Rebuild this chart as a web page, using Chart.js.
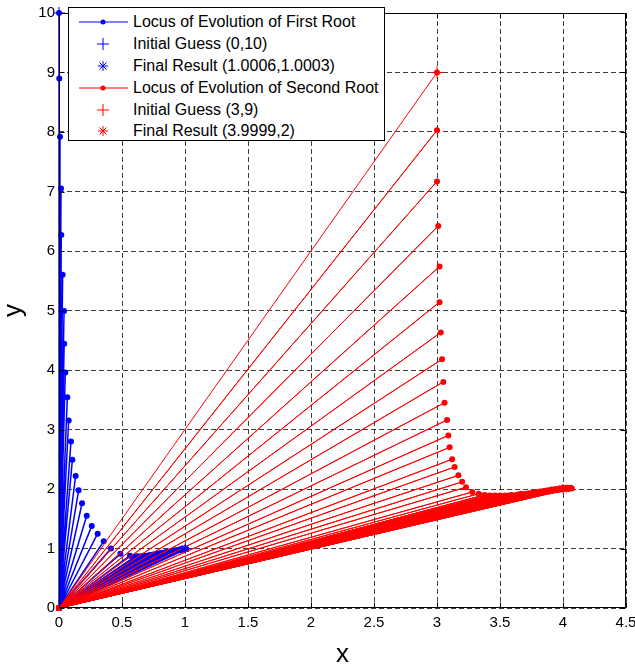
<!DOCTYPE html>
<html>
<head>
<meta charset="utf-8">
<script src="https://cdn.jsdelivr.net/npm/chart.js@4.4.1/dist/chart.umd.min.js"></script>
<style>
  html, body { margin: 0; padding: 0; background: #fff; }
  #wrap { position: relative; width: 635px; height: 664px; }
  #legend {
    position: absolute; left: 68px; top: 7px; width: 317px; height: 134px;
    box-sizing: border-box; border: 1px solid #000; background: #fff;
    padding-top: 3px;
    font-family: "Liberation Sans", Arial, Helvetica, sans-serif; font-size: 16px; color: #000;
  }
  .row { display: flex; align-items: center; height: 21.9px; }
  .row svg { width: 64px; height: 22px; flex: 0 0 64px; }
  .row span { white-space: nowrap; }
</style>
</head>
<body>
<div id="wrap">
  <canvas id="c" width="635" height="664"></canvas>
  <div id="legend"></div>
</div>
<script>
// ---- data ----
const locusHub = [0, 0];               // every iterate is joined back to the origin
const blueLocusX = [0, 0.002, 0.008, 0.016, 0.018, 0.029, 0.040, 0.041, 0.050, 0.066,
  0.077, 0.095, 0.106, 0.132, 0.156, 0.183, 0.220, 0.260, 0.307, 0.355,
  0.413, 0.487, 0.563,
  0.60, 0.61, 0.62, 0.63, 0.64, 0.65, 0.66, 0.67, 0.68, 0.69,
  0.70, 0.71, 0.72, 0.73, 0.74, 0.75, 0.76, 0.77, 0.78, 0.79,
  0.80, 0.81, 0.82, 0.83, 0.84, 0.85, 0.86, 0.87, 0.88, 0.89,
  0.90, 0.91, 0.92, 0.93, 0.94, 0.95, 0.96, 0.97, 0.98, 0.99,
  1.00, 1.01, 1.0006];
const blueLocusY = [10, 8.90, 7.92, 7.05, 6.27, 5.60, 4.99, 4.44, 3.96, 3.54,
  3.15, 2.80, 2.49, 2.22, 1.98, 1.76, 1.55, 1.38, 1.25, 1.12,
  1.00, 0.91, 0.88,
  0.86, 0.85, 0.87, 0.86, 0.85, 0.87, 0.86, 0.88, 0.86, 0.87,
  0.88, 0.87, 0.89, 0.88, 0.89, 0.90, 0.89, 0.91, 0.90, 0.91,
  0.92, 0.91, 0.93, 0.92, 0.93, 0.94, 0.93, 0.95, 0.94, 0.95,
  0.96, 0.95, 0.97, 0.96, 0.97, 0.98, 0.97, 0.99, 0.98, 0.99,
  1.00, 0.99, 1.0003];
const redLocusX = [3.00, 3.00, 3.00, 3.01, 3.02, 3.02, 3.03, 3.04, 3.05, 3.06,
  3.08, 3.09, 3.10, 3.12, 3.14, 3.17, 3.20, 3.23, 3.28, 3.33,
  3.36, 3.37, 3.38, 3.39, 3.40, 3.41, 3.42, 3.43, 3.44, 3.45,
  3.46, 3.47, 3.48, 3.49, 3.50, 3.51, 3.52, 3.53, 3.54, 3.55,
  3.56, 3.57, 3.58, 3.59, 3.60, 3.61, 3.62, 3.63, 3.64, 3.65,
  3.66, 3.67, 3.68, 3.69, 3.70, 3.71, 3.72, 3.73, 3.74, 3.75,
  3.76, 3.77, 3.78, 3.79, 3.80, 3.81, 3.82, 3.83, 3.84, 3.85,
  3.86, 3.87, 3.88, 3.89, 3.90, 3.91, 3.92, 3.93, 3.94, 3.95,
  3.96, 3.97, 3.98, 3.99, 4.00, 4.01, 4.02, 4.03, 4.04, 4.05,
  4.06, 4.07, 3.9999];
const redLocusY = [9.00, 8.03, 7.17, 6.42, 5.74, 5.14, 4.63, 4.18, 3.80, 3.45,
  3.16, 2.90, 2.70, 2.50, 2.37, 2.23, 2.12, 2.03, 1.95, 1.92,
  1.89, 1.87, 1.90, 1.86, 1.88, 1.87, 1.89, 1.86, 1.88, 1.87,
  1.89, 1.86, 1.88, 1.87, 1.89, 1.87, 1.88, 1.86, 1.89, 1.87,
  1.88, 1.89, 1.87, 1.90, 1.88, 1.89, 1.87, 1.90, 1.89, 1.91,
  1.89, 1.92, 1.90, 1.91, 1.89, 1.92, 1.91, 1.93, 1.91, 1.92,
  1.94, 1.92, 1.93, 1.95, 1.93, 1.94, 1.96, 1.94, 1.95, 1.97,
  1.95, 1.96, 1.98, 1.96, 1.97, 1.99, 1.97, 1.98, 2.00, 1.98,
  1.99, 2.01, 1.99, 2.00, 2.02, 2.00, 2.01, 2.02, 2.00, 2.01,
  2.02, 2.01, 2.00];
const blueInitial = [0, 10];
const blueFinal = [1.0006, 1.0003];
const redInitial = [3, 9];
const redFinal = [3.9999, 2];
const xTickValues = [0, 0.5, 1, 1.5, 2, 2.5, 3, 3.5, 4, 4.5];
const xTickLabels = ['0', '0.5', '1', '1.5', '2', '2.5', '3', '3.5', '4', '4.5'];
const yTickValues = [0, 1, 2, 3, 4, 5, 6, 7, 8, 9, 10];
const yTickLabels = ['0', '1', '2', '3', '4', '5', '6', '7', '8', '9', '10'];
const legendLabels = [
  'Locus of Evolution of First Root',
  'Initial Guess (0,10)',
  'Final Result (1.0006,1.0003)',
  'Locus of Evolution of Second Root',
  'Initial Guess (3,9)',
  'Final Result (3.9999,2)'
];
const BLUE = '#0000ff', RED = '#ff0000';

function locus(xs, ys) {
  const pts = [];
  xs.forEach((x, i) => {
    pts.push({ x: x, y: ys[i] });
    pts.push({ x: locusHub[0], y: locusHub[1] });
  });
  return pts;
}
const pt = a => [{ x: a[0], y: a[1] }];

const FONT = '"Liberation Sans", Arial, Helvetica, sans-serif';

const boxPlugin = {
  id: 'boxPlugin',
  afterDatasetsDraw(chart) {
    const ctx = chart.ctx, a = chart.chartArea;
    const xs = chart.scales.x, ys = chart.scales.y;
    ctx.save();
    ctx.strokeStyle = '#000';
    ctx.lineWidth = 1;
    ctx.setLineDash([]);
    const L = Math.round(a.left) + 0.5, R = Math.round(a.right) - 0.5;
    const T = Math.round(a.top) + 0.5, B = Math.round(a.bottom) - 0.5;
    ctx.beginPath();
    ctx.rect(L, T, R - L, B - T);
    const tl = 5;
    xTickValues.forEach(v => {
      const p = Math.round(xs.getPixelForValue(v)) + 0.5;
      ctx.moveTo(p, B); ctx.lineTo(p, B - tl);
      ctx.moveTo(p, T); ctx.lineTo(p, T + tl);
    });
    yTickValues.forEach(v => {
      const p = Math.round(ys.getPixelForValue(v)) + 0.5;
      ctx.moveTo(L, p); ctx.lineTo(L + tl, p);
      ctx.moveTo(R, p); ctx.lineTo(R - tl, p);
    });
    ctx.stroke();
    ctx.restore();
  }
};

const common = { showLine: true, tension: 0, clip: false, pointBorderWidth: 0 };

new Chart(document.getElementById('c'), {
  type: 'scatter',
  data: {
    datasets: [
      Object.assign({}, common, {
        label: legendLabels[0], data: locus(blueLocusX, blueLocusY),
        borderColor: BLUE, backgroundColor: BLUE, borderWidth: 1.5,
        pointRadius: 3, pointBackgroundColor: BLUE, pointBorderColor: BLUE, order: 6
      }),
      {
        label: legendLabels[1], data: pt(blueInitial), showLine: false, clip: false,
        pointStyle: 'cross', pointRadius: 6, borderColor: BLUE, pointBorderWidth: 1,
        pointBorderColor: BLUE, order: 2
      },
      {
        label: legendLabels[2], data: pt(blueFinal), showLine: false, clip: false,
        pointStyle: 'star', pointRadius: 5, borderColor: BLUE, pointBorderWidth: 1,
        pointBorderColor: BLUE, order: 2
      },
      Object.assign({}, common, {
        label: legendLabels[3], data: locus(redLocusX, redLocusY),
        borderColor: RED, backgroundColor: RED, borderWidth: 1,
        pointRadius: 3, pointBackgroundColor: RED, pointBorderColor: RED, order: 5
      }),
      {
        label: legendLabels[4], data: pt(redInitial), showLine: false, clip: false,
        pointStyle: 'cross', pointRadius: 6, borderColor: RED, pointBorderWidth: 1,
        pointBorderColor: RED, order: 1
      },
      {
        label: legendLabels[5], data: pt(redFinal), showLine: false, clip: false,
        pointStyle: 'star', pointRadius: 5, borderColor: RED, pointBorderWidth: 1,
        pointBorderColor: RED, order: 1
      }
    ]
  },
  options: {
    responsive: false,
    animation: false,
    devicePixelRatio: 1,
    layout: { padding: { top: 13, right: 9, left: 0, bottom: 0 } },
    plugins: { legend: { display: false }, tooltip: { enabled: false } },
    scales: {
      x: {
        type: 'linear', min: 0, max: 4.5,
        afterBuildTicks: s => { s.ticks = xTickValues.map(v => ({ value: v })); },
        afterFit: s => { s.height = 56; s.paddingLeft = 0; s.paddingRight = 0; },
        ticks: {
          padding: 6, maxRotation: 0, autoSkip: false, color: '#000',
          font: { family: FONT, size: 15 },
          callback: (v, i) => xTickLabels[i]
        },
        grid: { color: 'rgba(0,0,0,0.75)', lineWidth: 1, drawTicks: false },
        border: { display: false, dash: [5, 3] },
        title: {
          display: true, text: 'x', color: '#000',
          font: { family: FONT, size: 26, lineHeight: 0.6 },
          padding: { top: 0, bottom: 1.5 }
        }
      },
      y: {
        type: 'linear', min: 0, max: 10,
        afterBuildTicks: s => { s.ticks = yTickValues.map(v => ({ value: v })); },
        afterFit: s => { s.width = 59; s.paddingTop = 0; s.paddingBottom = 0; },
        ticks: {
          padding: 4, autoSkip: false, color: '#000',
          font: { family: FONT, size: 15 },
          callback: (v, i) => yTickLabels[i]
        },
        grid: { color: 'rgba(0,0,0,0.75)', lineWidth: 1, drawTicks: false },
        border: { display: false, dash: [5, 3] },
        title: {
          display: true, text: 'y', color: '#000',
          font: { family: FONT, size: 26, lineHeight: 0.6 },
          padding: { top: 6.5, bottom: 0 }
        }
      }
    }
  },
  plugins: [boxPlugin]
});

// ---- legend (HTML, real text) ----
function sampleSvg(kind, color) {
  let s = '<svg viewBox="0 0 64 22" xmlns="http://www.w3.org/2000/svg">';
  if (kind === 'line') {
    s += `<line x1="10" y1="11" x2="59" y2="11" stroke="${color}" stroke-width="1"/>`;
    s += `<circle cx="34" cy="11" r="2.5" fill="${color}"/>`;
  } else if (kind === 'cross') {
    s += `<line x1="28" y1="11" x2="40" y2="11" stroke="${color}" stroke-width="1"/>`;
    s += `<line x1="34" y1="5" x2="34" y2="17" stroke="${color}" stroke-width="1"/>`;
  } else {
    s += `<line x1="29" y1="11" x2="39" y2="11" stroke="${color}" stroke-width="1"/>`;
    s += `<line x1="34" y1="6" x2="34" y2="16" stroke="${color}" stroke-width="1"/>`;
    s += `<line x1="30.5" y1="7.5" x2="37.5" y2="14.5" stroke="${color}" stroke-width="1"/>`;
    s += `<line x1="30.5" y1="14.5" x2="37.5" y2="7.5" stroke="${color}" stroke-width="1"/>`;
  }
  return s + '</svg>';
}
const kinds = ['line', 'cross', 'star', 'line', 'cross', 'star'];
const colors = [BLUE, BLUE, BLUE, RED, RED, RED];
document.getElementById('legend').innerHTML = legendLabels.map((t, i) =>
  `<div class="row">${sampleSvg(kinds[i], colors[i])}<span>${t}</span></div>`).join('');
</script>
</body>
</html>
